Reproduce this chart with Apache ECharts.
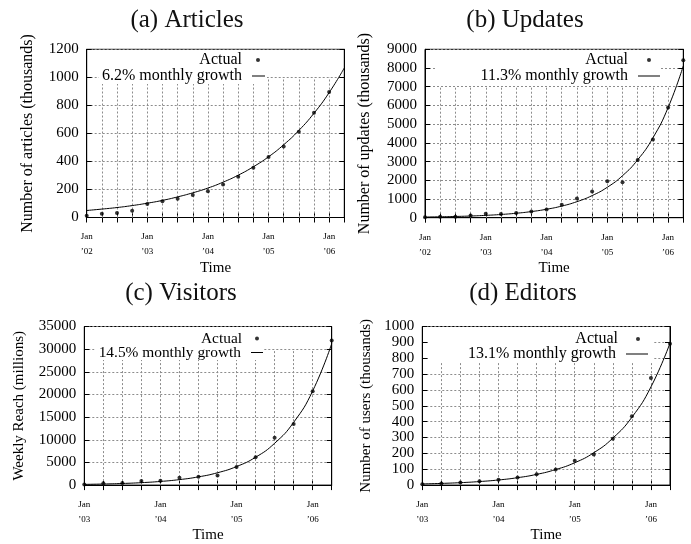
<!DOCTYPE html>
<html><head><meta charset="utf-8">
<script src="https://cdn.jsdelivr.net/npm/echarts@6/dist/echarts.min.js"></script>
<style>html,body{margin:0;padding:0;background:#fff}#c{width:691px;height:544px}</style>
</head><body><div id="c"></div>
<script>
// ---------- data ----------
const quartersAB = ['2002-01','2002-04','2002-07','2002-10','2003-01','2003-04','2003-07','2003-10','2004-01','2004-04','2004-07','2004-10','2005-01','2005-04','2005-07','2005-10','2006-01','2006-04'];
const quartersCD = ['2003-01','2003-04','2003-07','2003-10','2004-01','2004-04','2004-07','2004-10','2005-01','2005-04','2005-07','2005-10','2006-01','2006-04'];

const articlesActual = [12, 26, 32, 48, 96, 116, 133, 160, 188, 236, 291, 355, 432, 507, 612, 747, 896, null];
const articlesFit    = [50, 60, 71, 85, 102, 122, 147, 176, 210, 252, 302, 362, 433, 519, 621, 744, 891, 1067];

const updatesActual = [20, 50, 50, 120, 210, 195, 250, 330, 440, 690, 1020, 1400, 1945, 1900, 3085, 4180, 5890, 8410];
const updatesFit    = [35, 48, 66, 90, 125, 172, 237, 327, 451, 621, 857, 1181, 1628, 2245, 3096, 4268, 5885, 8114];

const visitorsActual = [150, 400, 450, 930, 980, 1600, 1820, 2100, 4000, 6170, 10450, 13470, 20700, 31900];
const visitorsFit    = [159, 238, 358, 537, 806, 1210, 1817, 2727, 4094, 6145, 9224, 13846, 20785, 31200];

const editorsActual = [6, 10, 17, 24, 33, 48, 68, 98, 153, 193, 292, 434, 675, 892];
const editorsFit    = [7.4, 10.7, 15.4, 22.3, 32.3, 46.7, 67.5, 98, 141, 204, 296, 428, 619, 895];

const titles = ['(a) Articles', '(b) Updates', '(c) Visitors', '(d) Editors'];
const fitNames = ['6.2% monthly growth', '11.3% monthly growth', '14.5% monthly growth', '13.1% monthly growth'];
const yNames = ['Number of articles (thousands)', 'Number of updates (thousands)', 'Weekly Reach (millions)', 'Number of users (thousands)'];
const yMaxes = [1200, 9000, 35000, 1000];
const yIntervals = [200, 1000, 5000, 100];
const vGridTops = [1000, 7000, 30000, 800];
const actualLabel = 'Actual';
const xName = 'Time';

// ---------- layout ----------
const FF = '"Liberation Serif", "Times New Roman", serif';
const layout = [
  {grid:{left:86.7, top:49.3, width:257.6, height:168.2}, tx:187, ty:19, yGap:51, yFs:16, lFs:16, r1:60, r2:76, sEnd:265, sW:13, dot:258, aPad:9, pL:3, pR:2, pT:6},
  {grid:{left:425, top:49.3, width:258.3, height:168.4}, tx:525, ty:19, yGap:52, yFs:16, lFs:16, r1:60, r2:76, sEnd:660, sW:22, dot:649, aPad:14, pL:44, pR:0, pT:6},
  {grid:{left:84.3, top:326.5, width:247.4, height:163.2}, tx:181, ty:292, yGap:58, yFs:15, lFs:15.4, r1:339, r2:353, sEnd:263, sW:12, dot:257, aPad:8, pL:4, pR:0, pT:6},
  {grid:{left:422.3, top:326.5, width:247.7, height:163.2}, tx:523, ty:292, yGap:49, yFs:15, lFs:16, r1:339, r2:354, sEnd:648, sW:22, dot:638, aPad:13, pL:40, pR:5, pT:6}
];
const cats = [quartersAB, quartersAB, quartersCD, quartersCD];
const actuals = [articlesActual, updatesActual, visitorsActual, editorsActual];
const fits = [articlesFit, updatesFit, visitorsFit, editorsFit];

const W = 691;
const option = {animation:false, backgroundColor:'#fff', title:[], grid:[], xAxis:[], yAxis:[], series:[], legend:[]};
const gridLine = {color:'#8c8c8c', type:[2,2], width:1};
const xFmt = v => v.endsWith('-01') ? 'Jan\n\u2019' + v.slice(2,4) : '';

for (let g = 0; g < 4; g++) {
  const L = layout[g];
  option.grid.push(Object.assign({show:true, borderColor:'#000', borderWidth:1, containLabel:false}, L.grid));
  option.title.push({text:titles[g], left:L.tx, top:L.ty - 11, textAlign:'center', padding:0,
    textStyle:{fontFamily:FF, fontSize:25, fontWeight:'normal', color:'#111'}});
  option.xAxis.push({type:'category', gridIndex:g, data:cats[g], boundaryGap:false,
    axisLine:{lineStyle:{color:'#000'}}, axisTick:{inside:true, interval:0, length:5, lineStyle:{color:'#000'}},
    axisLabel:{interval:0, formatter:xFmt, fontSize:9, lineHeight:15, margin:12, color:'#000', fontFamily:FF},
    splitLine:{show:false}, name:xName, nameLocation:'middle', nameGap:39,
    nameTextStyle:{fontSize:15, fontFamily:FF, color:'#000'}});
  option.xAxis.push({type:'category', gridIndex:g, data:cats[g], boundaryGap:false, position:'top',
    axisLine:{lineStyle:{color:'#000'}}, axisTick:{inside:true, interval:0, length:5, lineStyle:{color:'#000'}},
    axisLabel:{show:false}, splitLine:{show:false}});
  option.yAxis.push({type:'value', gridIndex:g, min:0, max:yMaxes[g], interval:yIntervals[g],
    axisLine:{show:true, lineStyle:{color:'#000'}}, axisTick:{show:true, inside:true, length:5, lineStyle:{color:'#000'}},
    axisLabel:{fontSize:15, margin:8, color:'#000', fontFamily:FF, formatter: v => String(v)},
    splitLine:{show:true, lineStyle:gridLine},
    name:yNames[g], nameLocation:'middle', nameRotate:90, nameGap:L.yGap,
    nameTextStyle:{fontSize:L.yFs, fontFamily:FF, color:'#000'}});
  option.yAxis.push({type:'value', gridIndex:g, min:0, max:yMaxes[g], interval:yIntervals[g], position:'right',
    axisLine:{show:true, lineStyle:{color:'#000'}}, axisTick:{show:true, inside:true, length:5, lineStyle:{color:'#000'}},
    axisLabel:{show:false}, splitLine:{show:false}});
  const vLines = [];
  for (let i = 1; i < cats[g].length - 1; i++) vLines.push([{coord:[i, 0]}, {coord:[i, vGridTops[g]]}]);
  option.series.push({type:'line', name:fitNames[g], xAxisIndex:2*g, yAxisIndex:2*g, data:fits[g],
    smooth:0.5, showSymbol:false, symbol:'none', z:3,
    lineStyle:{color:'#000', width:1}, itemStyle:{color:'#000'},
    markLine:{z:1, silent:true, symbol:['none','none'], label:{show:false}, lineStyle:gridLine,
      emphasis:{disabled:true}, data:vLines, animation:false}});
  option.series.push({type:'scatter', name:actualLabel, xAxisIndex:2*g, yAxisIndex:2*g, data:actuals[g],
    symbol:'circle', symbolSize:4, itemStyle:{color:'#000'}, z:4});
  // legend row 1 (Actual)
  option.legend.push({data:[{name:actualLabel, icon:'circle'}], selectedMode:false, align:'right', orient:'horizontal',
    right: W - (L.dot + 2), top: L.r1 - 8, padding:0, itemWidth:4, itemHeight:4, z:6,
    textStyle:{fontFamily:FF, fontSize:L.lFs, color:'#000', padding:[0,L.aPad,0,0]}});
  // legend row 2 (fit)
  option.legend.push({data:[{name:fitNames[g], icon:'rect'}], selectedMode:false, align:'right', orient:'horizontal',
    right: W - L.sEnd - L.pR, top: L.r2 - 8 - L.pT, padding:[L.pT, L.pR, 0, L.pL], backgroundColor:'#fff',
    itemWidth:L.sW, itemHeight:1, z:5,
    textStyle:{fontFamily:FF, fontSize:L.lFs, color:'#000', padding:[0,5,0,0]}});
}

const chart = echarts.init(document.getElementById('c'), null, {renderer:'canvas'});
chart.setOption(option);
</script>
</body></html>
